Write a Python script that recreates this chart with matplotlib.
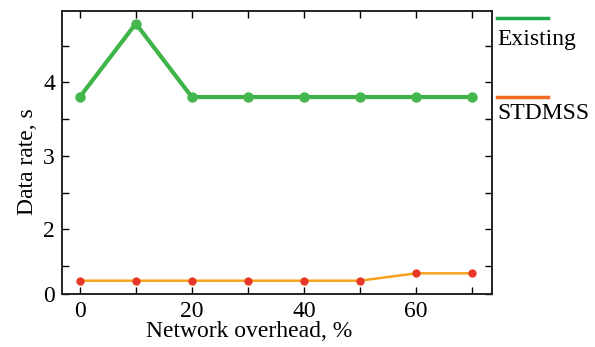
import numpy as np
import matplotlib.pyplot as plt
from matplotlib.lines import Line2D
from matplotlib.ticker import MultipleLocator

plt.rcParams['font.family'] = ['Liberation Serif', 'DejaVu Serif']

# Network overhead (%) and data rate for each scheme
overhead = [0, 10, 20, 30, 40, 50, 60, 70]
existing = [3.8, 4.8, 3.8, 3.8, 3.8, 3.8, 3.8, 3.8]
stdmss = [1.3, 1.3, 1.3, 1.3, 1.3, 1.3, 1.4, 1.4]

ytick_pos = [1.12, 2, 3, 4]
ytick_labels = ["0", "2", "3", "4"]

fs = 17

fig = plt.figure(figsize=(5.95, 3.47), dpi=100)
ax = fig.add_axes([0.104, 0.153, 0.723, 0.815])

ax.plot(overhead, existing, color="#3fb449", lw=3, marker="o", ms=6.5, mfc="#45b84d", mec="#45b84d")
ax.plot(overhead, stdmss, color="#f7a21b", lw=1.8, marker="o", ms=5, mfc="#e8382a", mec="#e8382a")

ax.set_xlim(-3.2, 73.6)
ax.set_ylim(1.12, 4.97)
ax.set_xticks([0, 20, 40, 60])
ax.xaxis.set_minor_locator(MultipleLocator(10))
ax.set_yticks(ytick_pos)
ax.set_yticklabels(ytick_labels)
ax.set_yticks([1.5, 2.5, 3.5, 4.5], minor=True)
ax.tick_params(which="both", direction="in", top=True, right=True, labelsize=fs, width=1, length=5)
ax.tick_params(axis="x", pad=5)
ax.tick_params(axis="y", pad=5)
for s in ax.spines.values():
    s.set_linewidth(1.4)
    s.set_color("#222222")

ax.set_xlabel("Network overhead, %", fontsize=fs)
ax.xaxis.set_label_coords(0.435, -0.095)
ax.set_ylabel("Data rate, s", fontsize=fs)
ax.yaxis.set_label_coords(-0.055, 0.466)

# legend drawn beside the axes: line above each label
fig.add_artist(Line2D([497 / 595, 548 / 595], [0.949, 0.949], color="#1fa84f", lw=2.5))
fig.text(497 / 595, 0.887, "Existing", fontsize=fs, va="center", ha="left")
fig.add_artist(Line2D([497 / 595, 548 / 595], [0.720, 0.720], color="#f26a22", lw=2.5))
fig.text(497 / 595, 0.672, "STDMSS", fontsize=fs, va="center", ha="left")

fig.savefig("out.png", dpi=100)
